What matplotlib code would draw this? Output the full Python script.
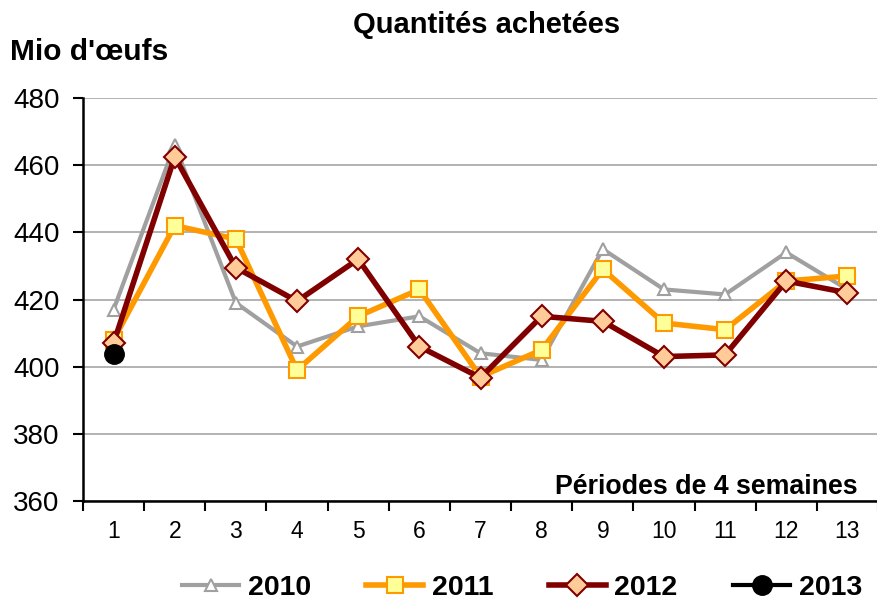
import matplotlib
matplotlib.use("Agg")
import matplotlib.pyplot as plt
from matplotlib.ticker import FixedLocator

plt.rcParams['font.family'] = ['Liberation Sans', 'DejaVu Sans']

periods = list(range(1, 14))
y2010 = [417, 466, 419, 406, 412, 415, 404, 402, 435, 423, 421.5, 434, 423]
y2011 = [408, 442, 438, 399, 415, 423, 397, 405, 429, 413, 411, 425.5, 427]
y2012 = [407, 462.5, 429.5, 419.5, 432, 406, 396.7, 415, 413.5, 403, 403.5, 425.5, 422]
p2013 = [1]
y2013 = [403.8]

fig = plt.figure(figsize=(8.77, 6.02), dpi=100)
ax = fig.add_axes([83/877, 1 - 501/602, (878 - 83)/877, (501 - 98)/602])

ax.plot(periods, y2010, color='#A0A0A0', lw=3, marker='^', ms=9,
        mfc='white', mec='#A0A0A0', mew=1.5, label='2010', zorder=3)
ax.plot(periods, y2011, color='#FF9900', lw=4, marker='s', ms=11,
        mfc='#FFFF99', mec='#FF9900', mew=1.5, label='2011', zorder=4)
ax.plot(periods, y2012, color='#800000', lw=4, marker='D', ms=11,
        mfc='#FFCC99', mec='#800000', mew=1.5, label='2012', zorder=5)
ax.plot(p2013, y2013, color='black', lw=3, marker='o', ms=14,
        mfc='black', mec='black', label='2013', zorder=6)

ax.set_xlim(0.5, 13.5)
ax.set_ylim(360, 480)
ax.set_yticks(range(360, 481, 20))
ax.yaxis.grid(True, color='#A6A6A6', lw=1.2)
ax.set_axisbelow(True)
ax.set_xticks(periods)
ax.set_xticklabels([str(p) for p in periods], fontsize=16.5)
ax.tick_params(axis='x', which='major', length=0, pad=14)
ax.xaxis.set_minor_locator(FixedLocator([p + 0.5 for p in range(0, 14)]))
ax.tick_params(axis='x', which='minor', length=7, width=1.5, direction='out')
ax.tick_params(axis='y', length=7, width=1.5, labelsize=20, pad=10)
for s in ['top', 'right']:
    ax.spines[s].set_visible(False)
ax.spines['left'].set_linewidth(1.8)
ax.spines['bottom'].set_linewidth(1.8)

fig.text(858/877, 1 - 487/602, 'Périodes de 4 semaines',
         ha='right', va='center', fontsize=19.3, fontweight='bold')

fig.text(487/877, 1 - 25/602, 'Quantités achetées', ha='center', va='center',
         fontsize=21, fontweight='bold')
fig.text(10/877, 1 - 52/602, "Mio d'œufs", ha='left', va='center',
         fontsize=21.5, fontweight='bold')

leg = fig.legend(loc='center', bbox_to_anchor=(522/877, 1 - 588/602), ncol=4,
                 frameon=False, prop={'size': 20.5, 'weight': 'bold'},
                 handlelength=2.0, columnspacing=1.95, handletextpad=0.3,
                 borderpad=0.1, borderaxespad=0)

fig.savefig('out.png', dpi=100)
